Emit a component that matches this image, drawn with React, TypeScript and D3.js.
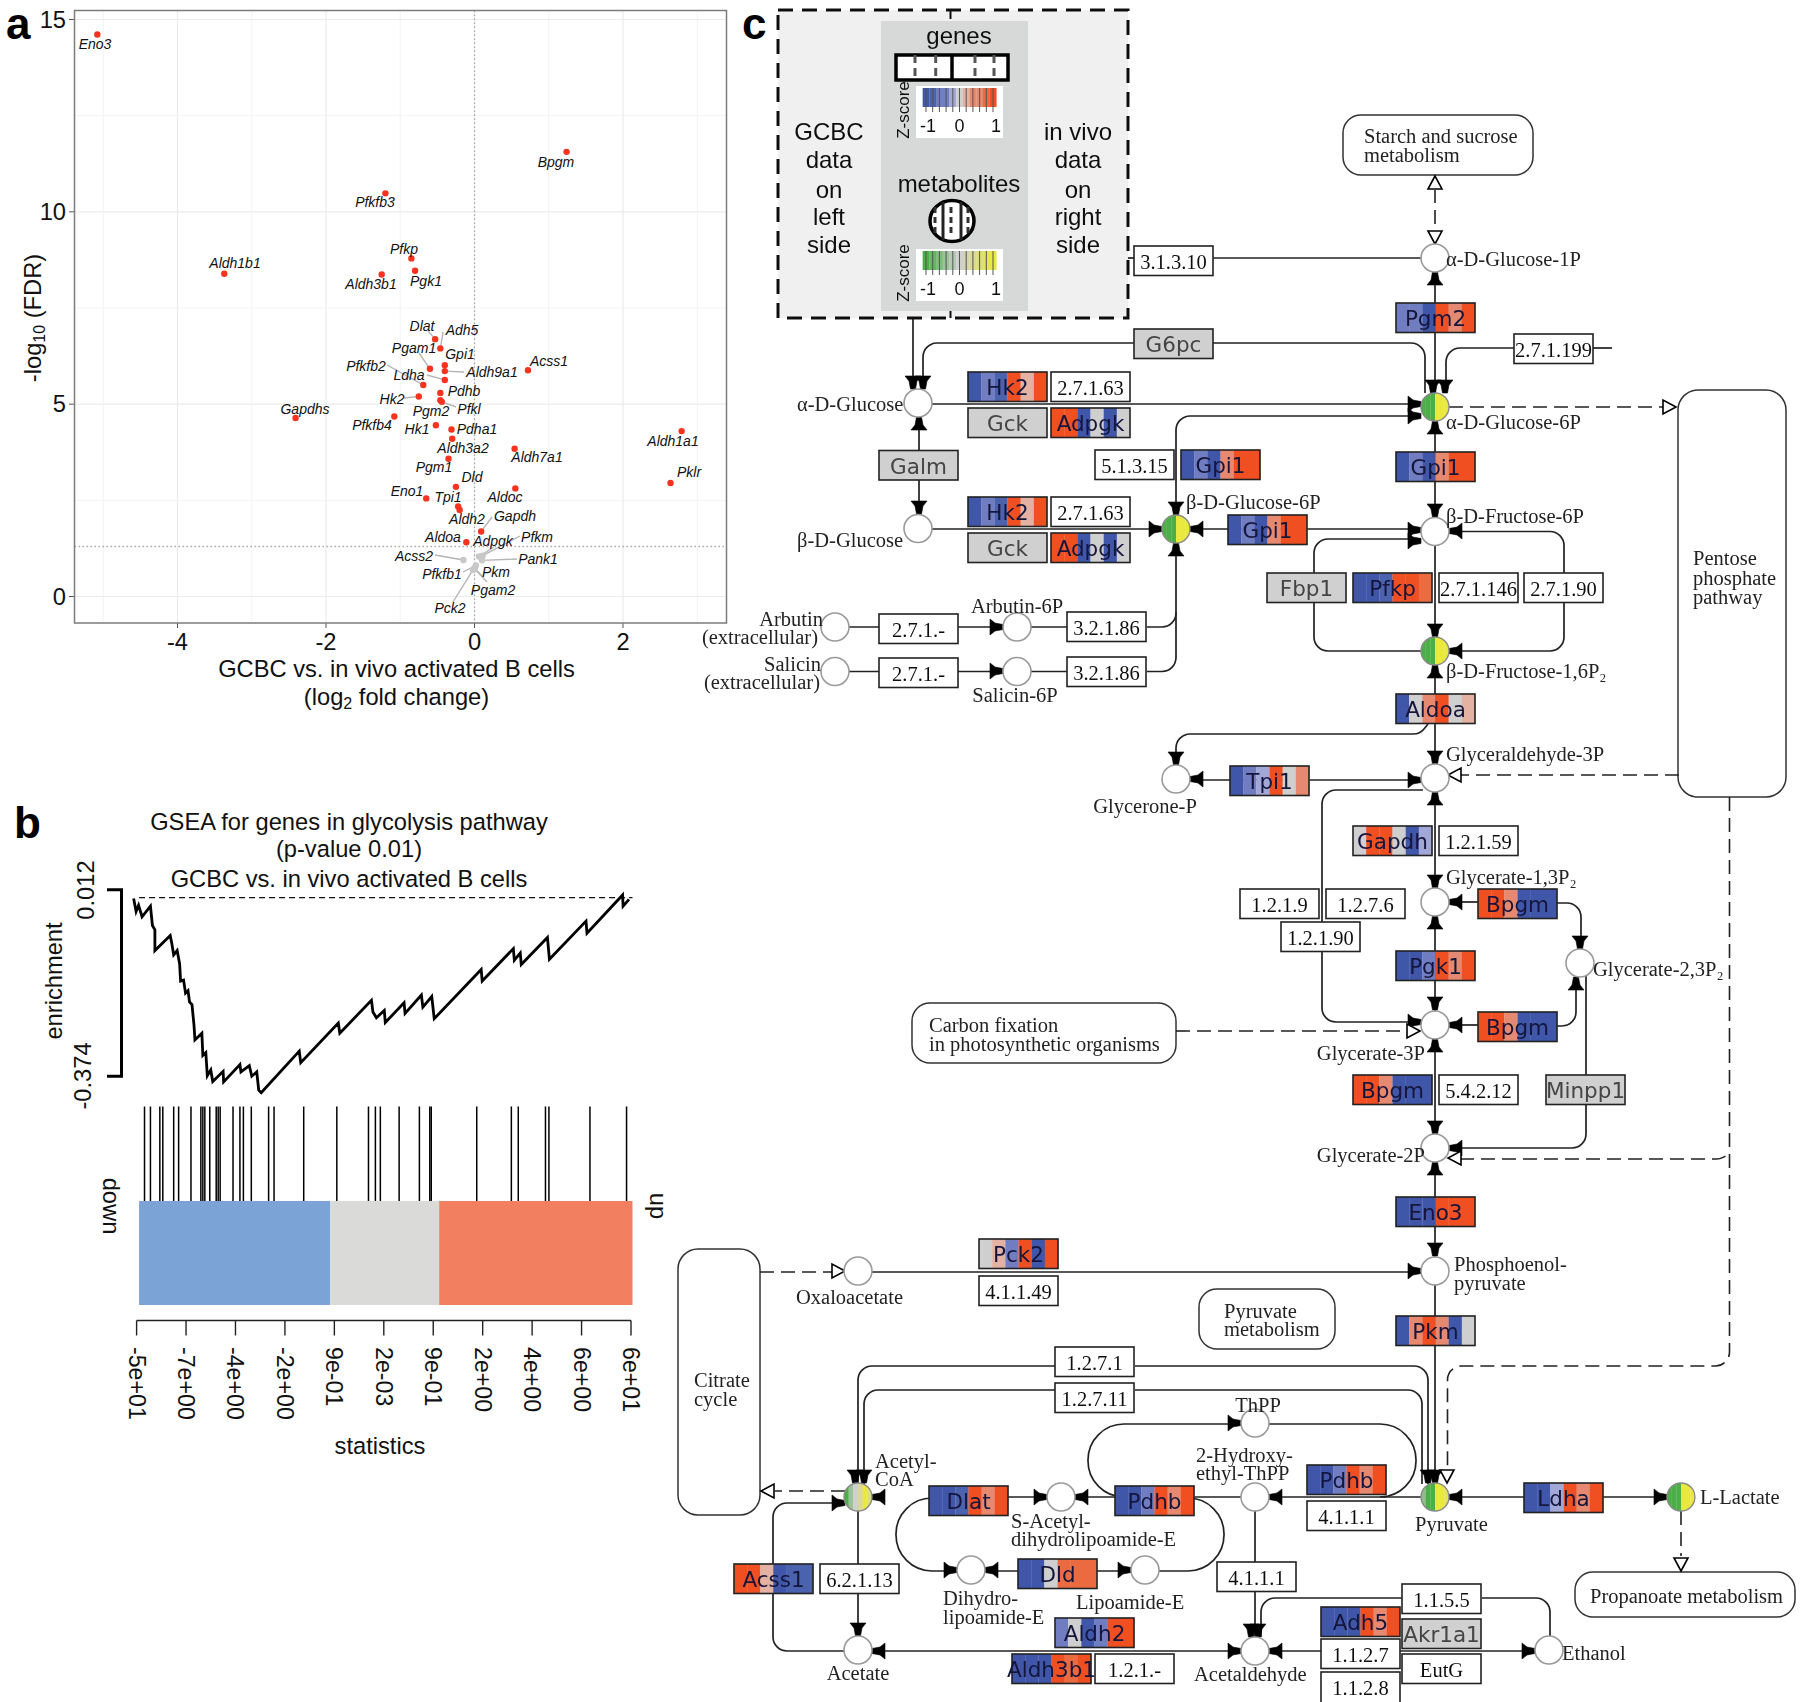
import React, { useRef, useEffect } from 'react';
import * as d3 from 'd3';

const SANS = '"Liberation Sans", Arial, sans-serif';
const SERIF = '"Liberation Serif", "Times New Roman", serif';
const VERA = '"DejaVu Sans", sans-serif';

// panel a: volcano
const genes = ['Eno3', 'Bpgm', 'Pfkfb3', 'Aldh1b1', 'Pfkp', 'Pgk1', 'Aldh3b1', 'Dlat', 'Adh5', 'Gpi1', 'Aldh9a1', 'Pdhb', 'Pgam1', 'Acss1', 'Pfkfb2', 'Ldha', 'Hk2', 'Pgm2', 'Pfkl', 'Gapdhs', 'Pfkfb4', 'Hk1', 'Pdha1', 'Aldh3a2', 'Aldh1a1', 'Aldh7a1', 'Pgm1', 'Pklr', 'Dld', 'Aldoc', 'Eno1', 'Tpi1', 'Aldh2', 'Gapdh', 'Aldoa', 'Adpgk', 'Pfkm', 'Pank1', 'Acss2', 'Pfkfb1', 'Pkm', 'Pgam2', 'Pck2'];
const log2fc = [-5.08, 1.24, -1.2, -3.37, -0.85, -0.8, -1.25, -0.53, -0.46, -0.4, -0.4, -0.4, -0.6, 0.72, -0.69, -0.46, -0.75, -0.46, -0.44, -2.41, -1.08, -0.52, -0.31, -0.3, 2.79, 0.54, -0.35, 2.64, -0.25, 0.55, -0.65, -0.22, -0.2, 0.09, -0.11, 0.06, 0.11, 0.1, -0.15, 0.02, 0, 0, -0.02];
const minusLogFdr = [14.61, 11.56, 10.48, 8.39, 8.79, 8.47, 8.37, 6.69, 6.45, 6.01, 5.86, 5.63, 5.92, 5.88, 5.5, 5.29, 5.2, 5.1, 5.06, 4.64, 4.68, 4.45, 4.34, 4.1, 4.3, 3.84, 3.58, 2.95, 2.85, 2.81, 2.55, 2.34, 2.25, 1.69, 1.41, 1.04, 1.06, 0.94, 0.95, 0.81, 0.74, 0.72, 0.69];
const fdrCut = 1.3;
const volcanoXTicks = [-4, -2, 0, 2];
const volcanoYTicks = [0, 5, 10, 15];
const volcanoXMinor = [-5, -3, -1, 1, 3];
const volcanoYMinor = [2.5, 7.5, 12.5];

// where ggrepel put the names (centre, page pixels)
const labelAt: Record<string, [number, number]> = {
  Eno3: [95, 44], Bpgm: [556, 162], Pfkfb3: [375, 202], Aldh1b1: [235, 263], Pfkp: [404, 249], Pgk1: [426, 281], Aldh3b1: [371, 284],
  Dlat: [422, 326], Adh5: [462, 330], Pgam1: [414, 348], Gpi1: [460, 354], Aldh9a1: [492, 372], Acss1: [549, 361], Pfkfb2: [366, 366],
  Ldha: [409, 375], Pdhb: [464, 391], Hk2: [392, 399], Pgm2: [431, 411], Pfkl: [469, 409], Gapdhs: [305, 409], Pfkfb4: [372, 425],
  Hk1: [417, 429], Pdha1: [477, 429], Aldh3a2: [463, 448], Aldh1a1: [673, 441], Aldh7a1: [537, 457], Pgm1: [434, 467], Pklr: [689, 472],
  Dld: [472, 477], Eno1: [407, 491], Tpi1: [448, 497], Aldoc: [505, 497], Aldh2: [467, 519], Gapdh: [515, 516], Aldoa: [443, 537],
  Pfkm: [537, 537], Adpgk: [493, 541], Acss2: [414, 556], Pank1: [538, 559], Pfkfb1: [442, 574], Pkm: [496, 572], Pgam2: [493, 590], Pck2: [450, 608],
};
const leaderFrom: Record<string, [number, number]> = {
  Dlat: [428, 331], Adh5: [443, 332], Pgam1: [419, 353], Pfkfb2: [387, 365], Pdhb: [427, 375], Hk2: [404, 398], Pfkl: [456, 407], Aldh9a1: [464, 372],
  Gapdh: [492, 517], Pfkm: [520, 536], Adpgk: [494, 547], Acss2: [435, 555], Pank1: [517, 559], Pfkfb1: [463, 572], Pkm: [483, 577], Pgam2: [487, 582], Pck2: [453, 602],
};

// panel b: GSEA
const gseaRank = [-0.06, -0.01, 0.04, 0.11, 0.28, 0.32, 0.37, 0.37, 0.68, 0.71, 0.75, 0.82, 0.87, 0.89, 0.95, 0.99, 1.04, 1.07, 1.12, 1.16, 1.18, 1.32, 1.34, 1.4, 1.43, 1.5, 1.54, 1.75, 1.76, 2.09, 2.11, 2.28, 2.33, 2.43, 2.47, 2.52, 3.29, 3.32, 4.08, 4.11, 4.75, 4.78, 4.85, 5.01, 5.03, 5.41, 5.43, 5.76, 5.79, 5.97, 6.02, 6.97, 6.99, 7.62, 7.64, 7.76, 7.78, 8.31, 8.35, 9.09, 9.11, 9.83, 9.84, 9.96];
const gseaScore = [-0.006, -0.033, -0.02, -0.044, -0.022, -0.062, -0.071, -0.114, -0.083, -0.098, -0.123, -0.114, -0.141, -0.177, -0.175, -0.202, -0.197, -0.22, -0.226, -0.267, -0.299, -0.285, -0.331, -0.325, -0.373, -0.361, -0.385, -0.364, -0.386, -0.35, -0.365, -0.352, -0.374, -0.365, -0.403, -0.408, -0.322, -0.346, -0.264, -0.285, -0.217, -0.241, -0.253, -0.238, -0.263, -0.222, -0.244, -0.206, -0.231, -0.209, -0.255, -0.153, -0.177, -0.11, -0.134, -0.119, -0.143, -0.087, -0.132, -0.053, -0.078, 0.001, -0.022, -0.008];
const gseaHits = [0.16, 0.28, 0.47, 0.53, 0.75, 0.85, 1.1, 1.3, 1.34, 1.38, 1.48, 1.61, 1.65, 1.69, 1.95, 2.09, 2.16, 2.32, 2.67, 2.78, 3.38, 4.05, 4.69, 4.83, 4.93, 5.31, 5.72, 5.93, 5.96, 6.88, 7.58, 7.72, 8.27, 8.34, 9.17, 9.91];
const gseaBands = [0.05, 3.92, 6.12, 10.03];
const gseaBandColors = ['#7ba3d6', '#dadad8', '#f17f60'];
const statLabels = ['-5e+01', '-7e+00', '-4e+00', '-2e+00', '9e-01', '2e-03', '9e-01', '2e+00', '4e+00', '6e+00', '6e+01'];
const gseaZeroLine = -0.0045;
const gseaTitle = ['GSEA for genes in glycolysis pathway', '(p-value 0.01)', 'GCBC vs. in vivo activated B cells'];

// panel c: KEGG glycolysis map
const zScores: Record<string, number[]> = {
  Hk2: [-1, -0.5, -0.75, 1, 0.25, 1], Adpgk: [1, 1, -1, 0, -1, 0], Gpi1: [-1, -0.5, -0.9, 0.6, 1, 1], Pgm2: [-0.5, -0.5, -0.9, 1, 0.5, 1],
  Pfkp: [-1, -0.9, -0.8, 1, 1, 0.75], Aldoa: [-1, 0, 0.5, 1, 0, 0.25], Tpi1: [-1, -0.5, -0.25, 1, 0, 0.6], Gapdh: [0, 1, 1, 0, -1, -0.25],
  Bpgm: [1, 1, 0.6, -1, -1, -1], Pgk1: [-1, -1, -0.5, 1, 0.6, 1], Eno3: [-1, -1, -1, 1, 1, 1], Pkm: [-1, 0.5, 1, 0.5, -1, 0], Pck2: [0, 0.25, -0.5, 1, -1, 1],
  Dlat: [-1, -1, -0.75, 1, 0.6, 1], Pdhb: [-1, -1, -0.5, 1, 0.6, 1], Ldha: [-1, -1, -0.25, 1, 0.6, 1], Dld: [-1, -1, 0, 0.7, 0.7, 0.7],
  Acss1: [1, 1, 0.25, -1, -0.75, -0.75], Aldh2: [-0.5, 0, -0.9, -0.6, 1, 1], Aldh3b1: [-1, -0.9, -0.9, 1, 0.75, 1], Adh5: [-1, -1, -0.9, 1, 0.6, 1],
};
const geneColors = ['#3f57a9', '#4c62af', '#6f7dc0', '#a1a7d6', '#cfcfcf', '#e3b2a3', '#e6896f', '#ec6a41', '#f04f23'];
const metaboliteZ: Record<string, number[]> = {
  half: [-1, -1, -1, 1, 1, 1], acetyl: [-1, -0.4, 0, 0.4, 1, 0.5], pyruvate: [-0.5, -1, -1, 1, 1, 0.8],
};
const legendZ = [-1, -0.8, -0.6, -0.4, -0.2, 0, 0.2, 0.4, 0.6, 0.8, 1];

const geneBoxes: [string, number, number][] = [
  ['G6pc', 1134, 329], ['Hk2', 968, 372], ['Gck', 968, 408], ['Adpgk', 1051, 408], ['Galm', 879, 450.5], ['Gpi1', 1181, 450], ['Hk2', 968, 497], ['Gck', 968, 533], ['Adpgk', 1051, 533],
  ['Pgm2', 1396, 303], ['Gpi1', 1396, 452], ['Gpi1', 1228, 515], ['Fbp1', 1267, 573], ['Pfkp', 1353, 573], ['Aldoa', 1396, 694], ['Tpi1', 1230, 766], ['Gapdh', 1353, 826],
  ['Bpgm', 1478, 889], ['Pgk1', 1396, 951], ['Bpgm', 1478, 1012], ['Bpgm', 1353, 1075], ['Minpp1', 1546, 1075], ['Eno3', 1396, 1197], ['Pck2', 979, 1239], ['Pkm', 1396, 1316],
  ['Pdhb', 1307, 1465], ['Dlat', 929, 1486], ['Pdhb', 1115, 1486], ['Ldha', 1524, 1483], ['Dld', 1018, 1559], ['Acss1', 734, 1564], ['Aldh2', 1055, 1618], ['Aldh3b1', 1012, 1654], ['Adh5', 1321, 1607], ['Akr1a1', 1402, 1619],
];
const ecBoxes: [string, number, number][] = [
  ['3.1.3.10', 1134, 246], ['2.7.1.63', 1051, 372], ['5.1.3.15', 1095, 450], ['2.7.1.63', 1051, 497], ['2.7.1.199', 1514, 334], ['2.7.1.146', 1439, 573], ['2.7.1.90', 1524, 573],
  ['2.7.1.-', 879, 614], ['2.7.1.-', 879, 658], ['3.2.1.86', 1067, 612], ['3.2.1.86', 1067, 657], ['1.2.1.59', 1439, 826], ['1.2.1.9', 1240, 889], ['1.2.7.6', 1326, 889], ['1.2.1.90', 1281, 922],
  ['5.4.2.12', 1439, 1075], ['4.1.1.49', 979, 1276], ['1.2.7.1', 1055, 1347], ['1.2.7.11', 1055, 1383], ['4.1.1.1', 1307, 1501], ['4.1.1.1', 1217, 1562], ['6.2.1.13', 820, 1564], ['1.2.1.-', 1095, 1654],
  ['1.1.5.5', 1402, 1584], ['1.1.2.7', 1321, 1639], ['EutG', 1402, 1654], ['1.1.2.8', 1321, 1672],
];
const nodes: [number, number, string?][] = [
  [1435, 258], [1435, 407, 'half'], [1435, 531.5], [1435, 651, 'half'], [918, 403], [918, 528.5], [1176, 529, 'half'], [835, 627], [835, 671.5], [1017, 627], [1017, 671.5],
  [1176, 779], [1435, 778], [1435, 902], [1580, 963], [1435, 1025], [1435, 1148], [1435, 1271], [858, 1271], [1435, 1497, 'pyruvate'], [1681, 1497, 'half'], [1255, 1423], [1255, 1497],
  [858, 1497, 'acetyl'], [1061, 1497], [971, 1570], [1145, 1570], [858, 1650], [1255, 1651], [1549, 1650],
];
const pathwayBoxes: [number, number, number, number, number][] = [
  [1343, 115, 190, 60, 18], [1678, 390, 108, 407, 20], [912, 1003, 264, 60, 18], [678, 1249, 82, 266, 20], [1199, 1289, 136, 60, 18], [1575, 1572, 220, 45, 18],
];
const mapLabels: [string, number, number, string?][] = [
  ['Starch and sucrose', 1364, 136], ['metabolism', 1364, 155], ['α-D-Glucose-1P', 1446, 259], ['α-D-Glucose-6P', 1446, 422], ['β-D-Fructose-6P', 1446, 516], ['β-D-Fructose-1,6P₂', 1446, 671],
  ['β-D-Glucose-6P', 1186, 502], ['α-D-Glucose', 797, 404], ['β-D-Glucose', 797, 540], ['Pentose', 1693, 558], ['phosphate', 1693, 578], ['pathway', 1693, 597],
  ['Arbutin', 823, 619, 'end'], ['(extracellular)', 818, 637, 'end'], ['Salicin', 821, 664, 'end'], ['(extracellular)', 820, 682, 'end'], ['Arbutin-6P', 1017, 606, 'middle'], ['Salicin-6P', 1015, 695, 'middle'],
  ['Glycerone-P', 1145, 806, 'middle'], ['Glyceraldehyde-3P', 1446, 754], ['Glycerate-1,3P₂', 1446, 877], ['Glycerate-2,3P₂', 1593, 969], ['Glycerate-3P', 1425, 1053, 'end'], ['Glycerate-2P', 1425, 1155, 'end'],
  ['Carbon fixation', 929, 1025], ['in photosynthetic organisms', 929, 1044], ['Phosphoenol-', 1454, 1264], ['pyruvate', 1454, 1283], ['Pyruvate', 1415, 1524], ['metabolism', 1224, 1329], ['Pyruvate', 1224, 1311],
  ['L-Lactate', 1700, 1497], ['Propanoate metabolism', 1590, 1596], ['ThPP', 1258, 1405, 'middle'], ['2-Hydroxy-', 1196, 1455], ['ethyl-ThPP', 1196, 1473], ['Acetaldehyde', 1194, 1674], ['Ethanol', 1562, 1653],
  ['Citrate', 694, 1380], ['cycle', 694, 1399], ['Oxaloacetate', 796, 1297], ['Acetyl-', 875, 1461], ['CoA', 875, 1479], ['S-Acetyl-', 1011, 1521], ['dihydrolipoamide-E', 1011, 1539], ['Dihydro-', 943, 1598], ['lipoamide-E', 943, 1617], ['Lipoamide-E', 1076, 1602], ['Acetate', 858, 1673, 'middle'],
];
const solidLinks: [number, number][][] = [
  [[1435, 258], [1435, 1490]], [[1128, 258], [1134, 258]], [[1213, 258], [1421, 258]], [[913, 318], [913, 385]], [[1134, 343], [923, 343], [923, 385]], [[1213, 343], [1425, 343], [1425, 393]],
  [[1514, 348], [1446, 348], [1446, 390]], [[1593, 348], [1612, 348]], [[932, 404], [1421, 404]], [[1176, 515], [1176, 416], [1421, 416]], [[919, 417], [919, 515]], [[932, 529], [1162, 529]], [[1190, 529], [1421, 529]],
  [[1147, 627], [1176, 627], [1176, 612]], [[1147, 671.5], [1176, 671.5], [1176, 543]], [[848, 627], [1003, 627]], [[848, 671.5], [1003, 671.5]], [[1031, 627], [1067, 627]], [[1031, 671.5], [1067, 671.5]],
  [[1421, 539], [1314, 539], [1314, 651], [1421, 651]], [[1449, 531.5], [1564, 531.5], [1564, 651], [1449, 651]], [[1428, 724], [1420, 734], [1176, 734], [1176, 765]], [[1190, 780], [1421, 780]],
  [[1423, 790], [1322, 790], [1322, 1022], [1421, 1022]], [[1557, 903], [1581, 903], [1581, 950]], [[1557, 1026], [1576, 1026], [1576, 978]], [[1586, 975], [1586, 1148], [1449, 1148]], [[1449, 902], [1478, 902]], [[1449, 1025], [1478, 1025]],
  [[872, 1272], [1421, 1272]], [[1055, 1366], [858, 1366], [858, 1484]], [[1135, 1366], [1428, 1366], [1428, 1484]], [[1055, 1390], [864, 1390], [864, 1484]], [[1135, 1390], [1422, 1390], [1422, 1484]],
  [[1269, 1497], [1421, 1497]], [[1449, 1497], [1524, 1497]], [[1603, 1497], [1667, 1497]],
  [[1008, 1497], [1047, 1497]], [[1075, 1497], [1115, 1497]], [[1195, 1497], [1241, 1497]],
  [[985, 1571], [1018, 1571]], [[1097, 1571], [1131, 1571]], [[858, 1511], [858, 1636]], [[1255, 1511], [1255, 1637]], [[1261, 1637], [1261, 1598], [1402, 1598]], [[1482, 1598], [1550, 1598], [1550, 1636]],
  [[1269, 1651], [1535, 1651]], [[845, 1503], [773, 1503], [773, 1651], [844, 1651]], [[872, 1651], [1241, 1651]],
];
// the cofactor loops are close to semicircles
const roundLoops: [number, number][][] = [
  [[1269, 1424], [1416, 1424], [1416, 1497], [1386, 1497]], [[1115, 1497], [1088, 1497], [1088, 1424], [1241, 1424]],
  [[930, 1498], [896, 1498], [896, 1571], [957, 1571]], [[1195, 1498], [1224, 1498], [1224, 1571], [1159, 1571]],
];
const dashedLinks: [number, number][][] = [
  [[1435, 245], [1435, 190]], [[1449, 407], [1664, 407]], [[1679, 775], [1460, 775]], [[1729.5, 797], [1729.5, 1366], [1447.5, 1366], [1447.5, 1470]], [[1460, 1159], [1720, 1159], [1729.5, 1154]],
  [[1176, 1031], [1407, 1031]], [[760, 1272], [833, 1272]], [[845, 1491], [775, 1491]], [[1681, 1511], [1681, 1556]],
];
const solidArrows: [number, number, string][] = [
  [1435, 272, 'u'], [1433, 393, 'd'], [1445, 393, 'd'], [1421, 404, 'r'], [1421, 416, 'r'], [1435, 421, 'u'], [1435, 517, 'd'], [1421, 530, 'r'], [1421, 541, 'r'], [1449, 531, 'l'], [1435, 637, 'd'], [1435, 665, 'u'], [1449, 651, 'l'],
  [1435, 764, 'd'], [1421, 780, 'r'], [1435, 792, 'u'], [1435, 888, 'd'], [1449, 902, 'l'], [1435, 916, 'u'], [1435, 1010, 'd'], [1421, 1022, 'r'], [1449, 1025, 'l'], [1435, 1039, 'u'], [1580, 949, 'd'], [1576, 977, 'u'],
  [1435, 1134, 'd'], [1449, 1148, 'l'], [1435, 1162, 'u'], [1435, 1256, 'd'], [1421, 1271, 'r'], [1428, 1483, 'd'], [1435, 1483, 'd'], [1449, 1497, 'l'], [1269, 1497, 'l'], [1241, 1423, 'r'], [1667, 1497, 'r'],
  [1251, 1637, 'd'], [1258, 1637, 'd'], [1241, 1651, 'r'], [1269, 1651, 'l'], [1535, 1651, 'r'], [855, 1483, 'd'], [864, 1483, 'd'], [872, 1497, 'l'], [845, 1503, 'r'], [858, 1636, 'd'], [872, 1651, 'l'],
  [1047, 1497, 'r'], [1075, 1497, 'l'], [957, 1570, 'r'], [985, 1570, 'l'], [1131, 1570, 'r'], [1003, 627, 'r'], [1003, 671, 'r'], [913, 389, 'd'], [923, 389, 'd'], [919, 417, 'u'], [919, 514, 'd'],
  [1176, 515, 'd'], [1162, 529, 'r'], [1190, 529, 'l'], [1176, 543, 'u'], [1176, 765, 'd'], [1190, 779, 'l'],
];
const openArrows: [number, number, string][] = [
  [1435, 244, 'd'], [1435, 176, 'u'], [1676, 407, 'r'], [1448, 775, 'l'], [1420, 1031, 'r'], [1448, 1158, 'l'], [845, 1271, 'r'], [761, 1491, 'l'], [1447, 1483, 'd'], [1681, 1571, 'd'],
];
const insetLeft = ['GCBC', 'data', 'on', 'left', 'side'];
const insetRight = ['in vivo', 'data', 'on', 'right', 'side'];
const insetRows = [131, 159, 189, 216, 244];

export default function App() {
  const svgRef = useRef<SVGSVGElement>(null);

  useEffect(() => {
    if (!svgRef.current) return;
    const svg = d3.select(svgRef.current);
    svg.selectAll('*').remove();

    const label = (g: any, str: string, x: number, y: number, size: number, family = SANS, anchor = 'middle') =>
      g.append('text').attr('x', x).attr('y', y).attr('font-size', size).attr('font-family', family).attr('text-anchor', anchor).attr('dominant-baseline', 'central').attr('fill', '#111').text(str);
    const bend = (pts: [number, number][], r = 14) => {
      const p = d3.path();
      p.moveTo(pts[0][0], pts[0][1]);
      for (let i = 1; i < pts.length - 1; i++) p.arcTo(pts[i][0], pts[i][1], pts[i + 1][0], pts[i + 1][1], r);
      p.lineTo(pts[pts.length - 1][0], pts[pts.length - 1][1]);
      return p.toString();
    };

    // ---- panel a
    const a = svg.append('g');
    const vx = d3.scaleLinear().domain([-4, 2]).range([177.5, 623]);
    const vy = d3.scaleLinear().domain([0, 15]).range([596.5, 19.5]);
    volcanoXMinor.forEach((t) => a.append('line').attr('x1', vx(t)).attr('x2', vx(t)).attr('y1', 10.5).attr('y2', 623).attr('stroke', '#f3f3f3'));
    volcanoYMinor.forEach((t) => a.append('line').attr('x1', 74.5).attr('x2', 726.5).attr('y1', vy(t)).attr('y2', vy(t)).attr('stroke', '#f3f3f3'));
    volcanoXTicks.forEach((t) => {
      a.append('line').attr('x1', vx(t)).attr('x2', vx(t)).attr('y1', 10.5).attr('y2', 623).attr('stroke', '#ebebeb').attr('stroke-width', 1.2);
      a.append('line').attr('x1', vx(t)).attr('x2', vx(t)).attr('y1', 623).attr('y2', 628).attr('stroke', '#555');
      label(a, String(t), vx(t), 642, 23.7);
    });
    volcanoYTicks.forEach((t) => {
      a.append('line').attr('x1', 74.5).attr('x2', 726.5).attr('y1', vy(t)).attr('y2', vy(t)).attr('stroke', '#ebebeb').attr('stroke-width', 1.2);
      a.append('line').attr('x1', 69).attr('x2', 74.5).attr('y1', vy(t)).attr('y2', vy(t)).attr('stroke', '#555');
      label(a, String(t), 66, vy(t), 23.7, SANS, 'end');
    });
    a.append('line').attr('x1', vx(0)).attr('x2', vx(0)).attr('y1', 10.5).attr('y2', 623).attr('stroke', '#aaa').attr('stroke-width', 1.3).attr('stroke-dasharray', '1.5 2.5');
    a.append('line').attr('x1', 74.5).attr('x2', 726.5).attr('y1', vy(fdrCut)).attr('y2', vy(fdrCut)).attr('stroke', '#aaa').attr('stroke-width', 1.3).attr('stroke-dasharray', '1.5 2.5');
    a.append('rect').attr('x', 74.5).attr('y', 10.5).attr('width', 652).attr('height', 612.5).attr('fill', 'none').attr('stroke', '#7c7c7c').attr('stroke-width', 1.5);
    genes.forEach((g, i) => {
      if (leaderFrom[g]) a.append('line').attr('x1', leaderFrom[g][0]).attr('y1', leaderFrom[g][1]).attr('x2', vx(log2fc[i])).attr('y2', vy(minusLogFdr[i])).attr('stroke', '#b5b5b5').attr('stroke-width', 1.4);
    });
    genes.forEach((g, i) => {
      a.append('circle').attr('cx', vx(log2fc[i])).attr('cy', vy(minusLogFdr[i])).attr('r', 3.2).attr('fill', minusLogFdr[i] > fdrCut ? '#f5331f' : '#c8c8c8');
      label(a, g, labelAt[g][0], labelAt[g][1], 14).attr('font-style', 'italic');
    });
    const yTitle = a.append('text').attr('transform', 'translate(33,318) rotate(-90)').attr('text-anchor', 'middle').attr('dominant-baseline', 'central').attr('font-family', SANS).attr('font-size', 23.7).attr('fill', '#111');
    yTitle.append('tspan').text('-log');
    yTitle.append('tspan').attr('font-size', 16).attr('dy', 6).text('10');
    yTitle.append('tspan').attr('dy', -6).text(' (FDR)');
    label(a, 'GCBC vs. in vivo activated B cells', 396.5, 669, 23.7);
    const xTitle = a.append('text').attr('x', 396.5).attr('y', 697).attr('text-anchor', 'middle').attr('dominant-baseline', 'central').attr('font-family', SANS).attr('font-size', 23.7).attr('fill', '#111');
    xTitle.append('tspan').text('(log');
    xTitle.append('tspan').attr('font-size', 16).attr('dy', 6).text('2');
    xTitle.append('tspan').attr('dy', -6).text(' fold change)');

    // ---- panel b
    const b = svg.append('g');
    const rx = d3.scaleLinear().domain([0, 10]).range([136.6, 631]);
    const ry = d3.scaleLinear().domain([-0.374, 0.012]).range([1076.2, 889.7]);
    gseaTitle.forEach((t, i) => label(b, t, 349, [822, 849, 879][i], 23.7));
    b.append('path').attr('d', 'M107,889.7H121.5V1076.2H107').attr('fill', 'none').attr('stroke', '#000').attr('stroke-width', 3);
    b.append('line').attr('x1', rx(0.05)).attr('x2', rx(10.03)).attr('y1', ry(gseaZeroLine)).attr('y2', ry(gseaZeroLine)).attr('stroke', '#111').attr('stroke-width', 1.3).attr('stroke-dasharray', '6 4');
    const curve = d3.line<number>().x((d) => rx(d)).y((_, i) => ry(gseaScore[i]));
    b.append('path').attr('d', curve(gseaRank)).attr('fill', 'none').attr('stroke', '#000').attr('stroke-width', 2.8).attr('stroke-linejoin', 'miter');
    const enrich = (str: string, x: number, y: number) => b.append('text').attr('transform', `translate(${x},${y}) rotate(-90)`).attr('text-anchor', 'middle').attr('dominant-baseline', 'central').attr('font-family', SANS).attr('font-size', 23.7).attr('fill', '#111').text(str);
    enrich('0.012', 86, 890);
    enrich('-0.374', 83, 1076);
    enrich('enrichment', 54, 981);
    gseaHits.forEach((h) => b.append('line').attr('x1', rx(h)).attr('x2', rx(h)).attr('y1', 1106.5).attr('y2', 1201).attr('stroke', '#000').attr('stroke-width', 1.5));
    gseaBandColors.forEach((c, i) => b.append('rect').attr('x', rx(gseaBands[i])).attr('width', rx(gseaBands[i + 1]) - rx(gseaBands[i])).attr('y', 1201).attr('height', 104).attr('fill', c));
    const sideways = (str: string, x: number, y: number, size: number, anchor = 'middle') => b.append('text').attr('transform', `translate(${x},${y}) rotate(90)`).attr('text-anchor', anchor).attr('dominant-baseline', 'central').attr('font-family', SANS).attr('font-size', size).attr('fill', '#111').text(str);
    sideways('down', 111, 1206, 23.7);
    sideways('up', 658, 1206, 23.7);
    b.append('line').attr('x1', rx(0)).attr('x2', rx(10)).attr('y1', 1320.5).attr('y2', 1320.5).attr('stroke', '#222').attr('stroke-width', 1.4);
    statLabels.forEach((s, i) => {
      b.append('line').attr('x1', rx(i)).attr('x2', rx(i)).attr('y1', 1320.5).attr('y2', 1335.5).attr('stroke', '#222').attr('stroke-width', 1.4);
      sideways(s, rx(i), 1347, 23.2, 'start');
    });
    label(b, 'statistics', 380, 1446, 23.7);

    // panel letters
    [['a', 6, 38.5], ['b', 14, 837.5], ['c', 742, 38.5]].forEach(([t, x, y]) => svg.append('text').attr('x', x as number).attr('y', y as number).attr('font-family', SANS).attr('font-weight', 'bold').attr('font-size', 44).attr('fill', '#000').text(t as string));

    // ---- panel c
    const defs = svg.append('defs');
    defs.append('filter').attr('id', 'soft').append('feGaussianBlur').attr('stdDeviation', 0.45);
    const c = svg.append('g').attr('filter', 'url(#soft)');
    const zColor = d3.scaleQuantize<string>().domain([-1.125, 1.125]).range(geneColors);
    const mColor = d3.scaleLinear<string>().domain([-1, 0, 1]).range(['#4cae47', '#cfcfcf', '#e8e83e']);
    const BW = 79, BH = 29.5;

    pathwayBoxes.forEach(([x, y, w, h, r]) => c.append('rect').attr('x', x).attr('y', y).attr('width', w).attr('height', h).attr('rx', r).attr('fill', '#fff').attr('stroke', '#333').attr('stroke-width', 1.5));
    solidLinks.forEach((pts) => c.append('path').attr('d', bend(pts)).attr('fill', 'none').attr('stroke', '#222').attr('stroke-width', 1.7));
    roundLoops.forEach((pts) => c.append('path').attr('d', bend(pts, 36)).attr('fill', 'none').attr('stroke', '#222').attr('stroke-width', 1.7));
    dashedLinks.forEach((pts) => c.append('path').attr('d', bend(pts)).attr('fill', 'none').attr('stroke', '#222').attr('stroke-width', 1.6).attr('stroke-dasharray', '14 7'));

    const arrowAngle: Record<string, number> = { r: 0, d: 90, l: 180, u: 270 };
    const arrow = ([x, y, dir]: [number, number, string], open: boolean) =>
      c.append('path').attr('d', open ? 'M0,0L-13,-7L-13,7Z' : 'M0,-2.5L0,2.5L-8,4L-13,8L-13,-8L-8,-4Z').attr('transform', `translate(${x},${y}) rotate(${arrowAngle[dir]})`).attr('fill', open ? '#fff' : '#000').attr('stroke', '#000').attr('stroke-width', open ? 1.6 : 0.6);
    solidArrows.forEach((s) => arrow(s, false));
    openArrows.forEach((s) => arrow(s, true));

    ecBoxes.forEach(([t, x, y]) => {
      c.append('rect').attr('x', x).attr('y', y).attr('width', BW).attr('height', y > 1670 ? 40 : BH).attr('fill', '#fff').attr('stroke', '#222').attr('stroke-width', 1.6);
      label(c, t, x + BW / 2, y + BH / 2 + 1, 20.5, SERIF);
    });
    geneBoxes.forEach(([t, x, y]) => {
      const z = zScores[t];
      if (z) z.forEach((v, i) => c.append('rect').attr('x', x + (i * BW) / z.length).attr('y', y).attr('width', BW / z.length + 0.2).attr('height', BH).attr('fill', zColor(v)));
      else c.append('rect').attr('x', x).attr('y', y).attr('width', BW).attr('height', BH).attr('fill', '#d0d0d0');
      c.append('rect').attr('x', x).attr('y', y).attr('width', BW).attr('height', BH).attr('fill', 'none').attr('stroke', '#222').attr('stroke-width', 1.6);
      label(c, t, x + BW / 2, y + BH / 2 + 1, 21.5, VERA).attr('fill', z ? '#16163c' : '#444');
    });

    nodes.forEach(([x, y, kind], i) => {
      if (kind) {
        const z = metaboliteZ[kind];
        const id = `node-${i}`;
        defs.append('clipPath').attr('id', id).append('circle').attr('cx', x).attr('cy', y).attr('r', 14);
        z.forEach((v, j) => c.append('rect').attr('x', x - 14 + (j * 28) / z.length).attr('y', y - 14).attr('width', 28 / z.length + 0.2).attr('height', 28).attr('fill', mColor(v)).attr('clip-path', `url(#${id})`));
        c.append('circle').attr('cx', x).attr('cy', y).attr('r', 14).attr('fill', 'none').attr('stroke', '#8a8a8a').attr('stroke-width', 1.4);
      } else {
        c.append('circle').attr('cx', x).attr('cy', y).attr('r', 14).attr('fill', '#fff').attr('stroke', '#9a9a9a').attr('stroke-width', 1.6);
      }
    });
    mapLabels.forEach(([t, x, y, anchor]) => label(c, t, x, y, 20.5, SERIF, anchor || 'start').attr('fill', '#222'));

    // legend inset
    const inset = c.append('g');
    inset.append('rect').attr('x', 778).attr('y', 10).attr('width', 350).attr('height', 308).attr('fill', '#f1f0f1').attr('stroke', '#111').attr('stroke-width', 3).attr('stroke-dasharray', '15 9');
    inset.append('rect').attr('x', 881).attr('y', 21).attr('width', 147).attr('height', 290).attr('fill', '#d7d9d8');
    [[950.5, 10, 19], [950.5, 311, 318]].forEach(([x, y0, y1]) => inset.append('line').attr('x1', x).attr('x2', x).attr('y1', y0).attr('y2', y1).attr('stroke', '#111').attr('stroke-width', 2));
    label(inset, 'genes', 959, 35, 24);
    label(inset, 'metabolites', 959, 183, 24);
    insetRows.forEach((y, i) => {
      label(inset, insetLeft[i], 829, y, 24);
      label(inset, insetRight[i], 1078, y, 24);
    });
    inset.append('rect').attr('x', 896).attr('y', 55).attr('width', 112).attr('height', 25).attr('fill', '#fff').attr('stroke', '#000').attr('stroke-width', 3.5);
    inset.append('line').attr('x1', 952).attr('x2', 952).attr('y1', 55).attr('y2', 80).attr('stroke', '#000').attr('stroke-width', 3.5);
    [915, 935.7, 975, 994].forEach((x) => inset.append('line').attr('x1', x).attr('x2', x).attr('y1', 55).attr('y2', 80).attr('stroke', '#555').attr('stroke-width', 3).attr('stroke-dasharray', '8 5'));
    inset.append('ellipse').attr('cx', 952).attr('cy', 221).attr('rx', 22).attr('ry', 20.5).attr('fill', '#fff').attr('stroke', '#000').attr('stroke-width', 3.5);
    [943, 961].forEach((x) => inset.append('line').attr('x1', x).attr('x2', x).attr('y1', 202).attr('y2', 240).attr('stroke', '#222').attr('stroke-width', 3));
    [935, 951, 968].forEach((x) => inset.append('line').attr('x1', x).attr('x2', x).attr('y1', 207).attr('y2', 236).attr('stroke', '#333').attr('stroke-width', 3).attr('stroke-dasharray', '6 4'));
    const zAxis = d3.scaleLinear().domain([-1, 1]).range([926, 993]);
    const legend = (top: number, barTop: number, colorOf: (v: number) => string) => {
      inset.append('rect').attr('x', 916).attr('y', top).attr('width', 87).attr('height', 52).attr('fill', '#fff');
      legendZ.forEach((v) => {
        inset.append('rect').attr('x', zAxis(v) - 3.35).attr('y', barTop).attr('width', 6.9).attr('height', 19).attr('fill', colorOf(v));
        inset.append('line').attr('x1', zAxis(v)).attr('x2', zAxis(v)).attr('y1', barTop).attr('y2', barTop + 24).attr('stroke', '#555').attr('stroke-width', 1);
      });
      [-1, 0, 1].forEach((v) => label(inset, String(v), zAxis(v) + (v === -1 ? 2 : v === 1 ? 3 : 0), barTop + 38, 18));
      inset.append('text').attr('transform', `translate(903,${barTop + 22}) rotate(-90)`).attr('text-anchor', 'middle').attr('dominant-baseline', 'central').attr('font-family', SANS).attr('font-size', 17).attr('fill', '#111').text('Z-score');
    };
    legend(86, 88, (v) => zColor(v));
    legend(249, 251, (v) => mColor(v));
  }, []);

  return <svg ref={svgRef} width={1800} height={1702} viewBox="0 0 1800 1702" style={{ position: 'absolute', left: 0, top: 0, background: '#fff' }} />;
}
